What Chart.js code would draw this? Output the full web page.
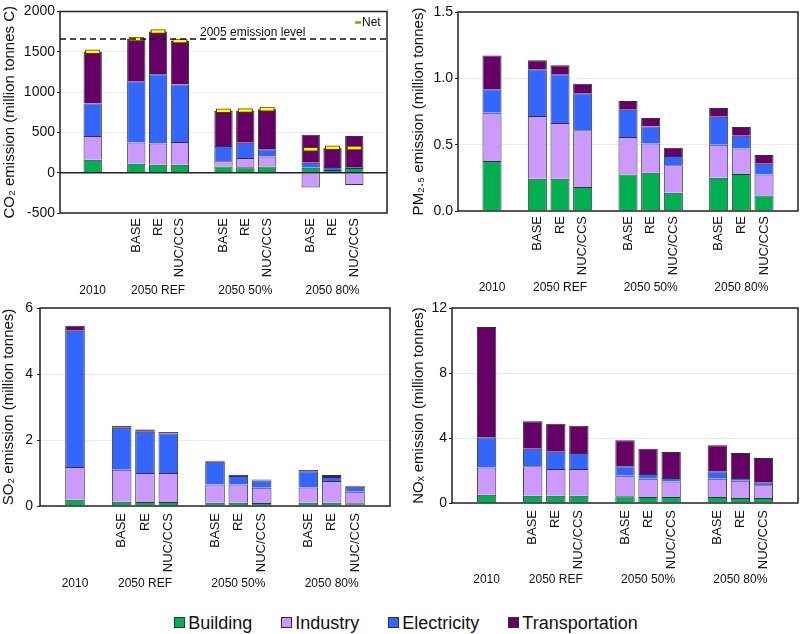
<!DOCTYPE html>
<html lang="en">
<head>
<meta charset="UTF-8">
<title>Emissions by sector</title>
<script src="https://cdn.jsdelivr.net/npm/chart.js"></script>
<style>
  body { margin: 0; background: #fff; }
  #wrap { position: relative; width: 800px; height: 634px; font-family: "Liberation Sans", Arial, sans-serif; }
  canvas { position: absolute; }
  #legend { position: absolute; left: 6px; top: 609px; width: 800px; display: flex; justify-content: center; gap: 29px; font-size: 18px; color: #111; line-height: 28px; }
  #legend .sw { display: inline-block; width: 9px; height: 9px; border: 1px solid #333; margin-right: 3px; vertical-align: 1px; }
</style>
</head>
<body>
<div id="wrap">
  <canvas id="co2" width="400" height="300" style="left:0;top:0"></canvas>
  <canvas id="pm" width="400" height="300" style="left:400px;top:0"></canvas>
  <canvas id="so2" width="400" height="290" style="left:0;top:300px"></canvas>
  <canvas id="nox" width="400" height="290" style="left:400px;top:300px"></canvas>
  <div id="legend"></div>
</div>
<script>
// 15 category slots: blanks between the groups
const slotCount = 15;
const barSlots = [1, 3, 4, 5, 7, 8, 9, 11, 12, 13];
const scenarioTicks = ['', '', '', 'BASE', 'RE', 'NUC/CCS', '', 'BASE', 'RE', 'NUC/CCS', '', 'BASE', 'RE', 'NUC/CCS', ''];
const groupTicks = ['', '2010', '', '', '2050 REF', '', '', '', '2050 50%', '', '', '', '2050 80%', '', ''];
const sectors = ['Building', 'Industry', 'Electricity', 'Transportation'];
const sectorColors = ['#00b050', '#cc99ff', '#3366ff', '#660066'];

// bars in order: 2010, REF BASE/RE/NUC, 50% BASE/RE/NUC, 80% BASE/RE/NUC
const co2Building    = [160, 110, 100, 100, 77, 69, 77, 60, 32, 58];
const co2Industry    = [295, 265, 262, 280, 64, 112, 125, -185, 0, -154];
const co2Electricity = [405, 760, 860, 715, 190, 190, 88, 65, 40, 14];
const co2Transport   = [640, 525, 530, 540, 435, 395, 496, 347, 238, 383];
const co2Net         = [1500, 1660, 1752, 1635, 768, 772, 788, 290, 310, 305];
const level2005 = 1660;

const pmBuilding    = [0.377, 0.244, 0.244, 0.181, 0.276, 0.289, 0.138, 0.251, 0.279, 0.116];
const pmIndustry    = [0.364, 0.472, 0.419, 0.427, 0.282, 0.219, 0.206, 0.249, 0.193, 0.160];
const pmElectricity = [0.176, 0.352, 0.367, 0.279, 0.206, 0.128, 0.071, 0.211, 0.096, 0.081];
const pmTransport   = [0.256, 0.068, 0.068, 0.073, 0.065, 0.065, 0.062, 0.065, 0.065, 0.065];

const so2Building    = [0.19, 0.13, 0.12, 0.12, 0.10, 0.10, 0.09, 0.10, 0.10, 0.08];
const so2Industry    = [0.995, 0.97, 0.88, 0.88, 0.55, 0.55, 0.46, 0.46, 0.66, 0.35];
const so2Electricity = [4.125, 1.27, 1.25, 1.20, 0.69, 0.26, 0.22, 0.49, 0.12, 0.15];
const so2Transport   = [0.15, 0.06, 0.07, 0.04, 0.03, 0.04, 0.03, 0.04, 0.06, 0.03];

const noxBuilding    = [0.51, 0.45, 0.45, 0.45, 0.41, 0.37, 0.37, 0.37, 0.31, 0.31];
const noxIndustry    = [1.68, 1.81, 1.64, 1.64, 1.27, 1.13, 0.96, 1.13, 1.06, 0.78];
const noxElectricity = [1.85, 1.08, 1.07, 0.99, 0.58, 0.28, 0.21, 0.45, 0.17, 0.18];
const noxTransport   = [6.79, 1.69, 1.72, 1.68, 1.60, 1.56, 1.60, 1.60, 1.54, 1.50];

const fontFamily = '"Liberation Sans", Arial, "DejaVu Sans", sans-serif';
Chart.defaults.font.family = fontFamily;
Chart.defaults.color = '#111';

function toSlots(values) {
  const out = new Array(slotCount).fill(null);
  barSlots.forEach((s, i) => { out[s] = values[i]; });
  return out;
}

// no extra room for overhanging tick labels, layout padding decides
function noOverhang(s) {
  s.paddingTop = 0; s.paddingBottom = 0; s.paddingLeft = 0; s.paddingRight = 0;
}

// frame round the plot + zero line
const boxPlugin = {
  id: 'box',
  afterDatasetsDraw(chart) {
    const { ctx, chartArea: a, scales: { y } } = chart;
    ctx.save();
    ctx.strokeStyle = '#222';
    ctx.lineWidth = 1.5;
    if (y.min < 0) {
      const z = y.getPixelForValue(0);
      ctx.beginPath(); ctx.moveTo(a.left, z); ctx.lineTo(a.right, z); ctx.stroke();
    }
    ctx.strokeRect(a.left, a.top, a.right - a.left, a.bottom - a.top);
    ctx.restore();
  }
};

const co2Notes = {
  id: 'co2Notes',
  afterDatasetsDraw(chart) {
    const { ctx, chartArea: a, scales: { y } } = chart;
    const yl = y.getPixelForValue(level2005);
    ctx.save();
    ctx.strokeStyle = '#111';
    ctx.lineWidth = 1.5;
    ctx.setLineDash([6, 4]);
    ctx.beginPath(); ctx.moveTo(a.left, yl); ctx.lineTo(a.right, yl); ctx.stroke();
    ctx.setLineDash([]);
    ctx.font = '12px ' + fontFamily;
    ctx.fillStyle = '#111';
    ctx.textBaseline = 'alphabetic';
    ctx.fillText('2005 emission level', a.left + 140, yl - 3);
    // Net legend
    ctx.strokeStyle = '#9a9a10';
    ctx.lineWidth = 2.5;
    ctx.beginPath(); ctx.moveTo(a.right - 32, a.top + 11); ctx.lineTo(a.right - 26, a.top + 11); ctx.stroke();
    ctx.textBaseline = 'middle';
    ctx.fillText('Net', a.right - 25, a.top + 11);
    ctx.restore();
  }
};

function drawPanel(id, p) {
  const datasets = p.series.map((vals, k) => ({
    type: 'bar',
    label: sectors[k],
    data: toSlots(vals),
    backgroundColor: sectorColors[k],
    borderColor: '#333',
    borderWidth: 1,
    barPercentage: 0.84,
    categoryPercentage: 1,
    order: 2
  }));
  if (p.net) {
    datasets.push({
      type: 'line', label: 'Net outline', data: toSlots(p.net), stack: 'n1', order: 1,
      showLine: false, pointStyle: 'line', pointRadius: 7.5,
      pointBorderColor: '#4a4a00', pointBorderWidth: 4, borderColor: '#4a4a00'
    });
    datasets.push({
      type: 'line', label: 'Net', data: toSlots(p.net), stack: 'n2', order: 0,
      showLine: false, pointStyle: 'line', pointRadius: 6.5,
      pointBorderColor: '#ffff00', pointBorderWidth: 2.5, borderColor: '#ffff00'
    });
  }
  new Chart(document.getElementById(id), {
    type: 'bar',
    data: { labels: scenarioTicks, datasets },
    options: {
      responsive: false,
      animation: false,
      devicePixelRatio: 1,
      layout: { padding: p.pad },
      plugins: { legend: { display: false }, tooltip: { enabled: false } },
      scales: {
        x: {
          stacked: true,
          grid: { display: false, drawTicks: false },
          border: { display: false },
          ticks: { autoSkip: false, minRotation: 90, maxRotation: 90, padding: p.xPad, font: { size: 13 } },
          afterFit: s => { noOverhang(s); s.height = 66; }
        },
        x2: {
          type: 'category',
          labels: groupTicks,
          position: 'bottom',
          offset: true,
          weight: 1,
          grid: { display: false, drawTicks: false },
          border: { display: false },
          ticks: { autoSkip: false, maxRotation: 0, padding: p.gPad, font: { size: 12 } },
          afterFit: s => { noOverhang(s); s.height = p.gHeight; }
        },
        y: {
          stacked: true,
          min: p.min,
          max: p.max,
          border: { display: false },
          grid: {
            drawTicks: true,
            tickLength: 3,
            tickColor: '#222',
            color: c => (c.tick && c.tick.value === 0) ? 'rgba(0,0,0,0)' : '#ececec'
          },
          ticks: {
            stepSize: p.step,
            padding: p.yPad,
            font: { size: 14 },
            callback: p.fmt || (v => v)
          },
          title: { display: true, text: p.title, font: { size: 15 }, padding: { top: p.titlePad, bottom: 0 } },
          afterFit: s => { noOverhang(s); s.width = p.yWidth; }
        }
      }
    },
    plugins: [boxPlugin].concat(p.extra || [])
  });
}

drawPanel('co2', {
  series: [co2Building, co2Industry, co2Electricity, co2Transport], net: co2Net,
  min: -500, max: 2000, step: 500, title: 'CO\u2082 emission (million tonnes C)',
  pad: { left: 0, right: 13, top: 6, bottom: 0 }, yWidth: 60, yPad: 2, titlePad: 1,
  xPad: 5, gPad: 4, gHeight: 21, extra: [co2Notes]
});
drawPanel('pm', {
  series: [pmBuilding, pmIndustry, pmElectricity, pmTransport],
  min: 0, max: 1.5, step: 0.5, title: 'PM\u2082.\u2085 emission (million tonnes)', fmt: v => v.toFixed(1),
  pad: { left: 0, right: 2, top: 12, bottom: 0 }, yWidth: 58, yPad: 2, titlePad: 10,
  xPad: 5, gPad: 3, gHeight: 23
});
drawPanel('so2', {
  series: [so2Building, so2Industry, so2Electricity, so2Transport],
  min: 0, max: 6, step: 2, title: 'SO\u2082 emission (million tonnes)',
  pad: { left: 0, right: 10, top: 8, bottom: 0 }, yWidth: 40, yPad: 4, titlePad: 0,
  xPad: 7, gPad: 4, gHeight: 18
});
drawPanel('nox', {
  series: [noxBuilding, noxIndustry, noxElectricity, noxTransport],
  min: 0, max: 12, step: 4, title: 'NO\u2093 emission (million tonnes)',
  pad: { left: 0, right: 2, top: 8, bottom: 0 }, yWidth: 52, yPad: 2, titlePad: 10,
  xPad: 7, gPad: 3, gHeight: 21
});

// shared legend
const legend = document.getElementById('legend');
sectors.forEach((name, k) => {
  const item = document.createElement('span');
  item.innerHTML = '<span class="sw" style="background:' + sectorColors[k] + '"></span>' + name;
  legend.appendChild(item);
});
</script>
</body>
</html>
